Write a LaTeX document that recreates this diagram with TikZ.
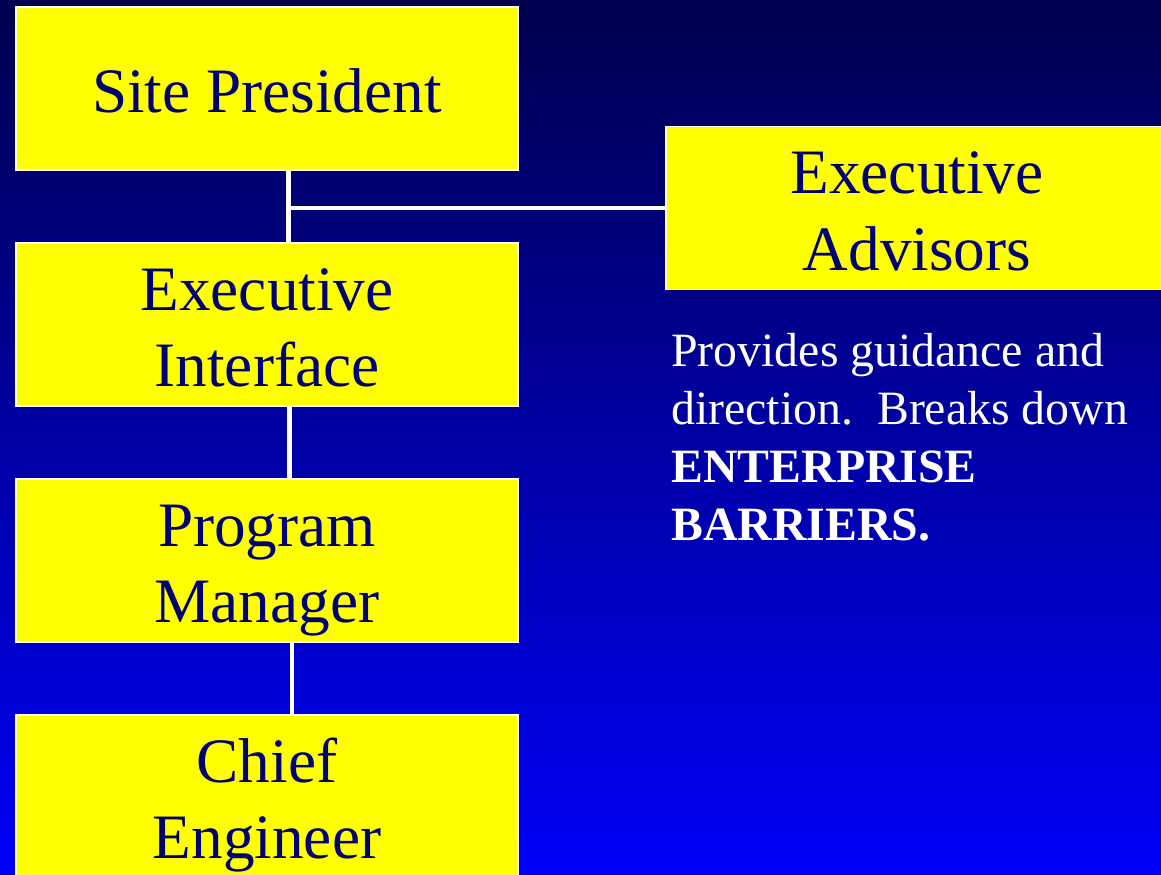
\documentclass[tikz,border=0pt]{standalone}
\usepackage{fontspec}
\setmainfont{Liberation Serif}
\usepackage{tikz}
\usetikzlibrary{positioning}
\usepackage{xcolor}
\definecolor{slidetop}{RGB}{0,0,78}
\definecolor{slidebottom}{RGB}{0,0,248}
\definecolor{boxfill}{RGB}{255,255,0}
\definecolor{boxtext}{RGB}{0,0,110}
\tikzset{%
	% #1 = height above the last baseline (one line: 30pt, two lines: 73.5pt)
	orgbox/.style={
		rectangle,
		draw=white,
		line width=1.1pt,
		fill=boxfill,
		text=boxtext,
		align=center,
		minimum width=10.04cm,
		minimum height=3.26cm,
		font=\fontsize{36}{43.5}\selectfont,
		text height=#1,
		text depth=2.5pt
	},
	orgbox/.default=30pt,
	link/.style={
		draw=white,
		line width=2.8pt
	},
	note/.style={
		text=white,
		align=left,
		inner sep=0pt,
		anchor=north west,
		font=\fontsize{27.2}{33}\selectfont
	},
}
\begin{document}
\begin{tikzpicture}
			% Slide background
			\useasboundingbox (0,0) rectangle (23.22,17.48);
			\clip (0,0) rectangle (23.22,17.48);
			\shade[top color=slidetop, bottom color=slidebottom] (0,0) rectangle (23.22,17.48);
			
			% Chain of command, stacked down the left side
			\node[orgbox] (sp) at (5.34,15.71) {Site President};
			\node[orgbox=73.5pt] (ei) [below=1.42cm of sp] {Executive\\Interface};
			\node[orgbox=73.5pt] (pm) [below=1.42cm of ei] {Program\\Manager};
			\node[orgbox=73.5pt] (ce) [below=1.42cm of pm] {Chief\\Engineer};
			
			% Advisors hang off the side of the top link
			\node[orgbox=73.5pt] (ea) at (18.34,13.32) {Executive\\Advisors};
			\node[note] (role) at (13.42,10.82) {Provides guidance and\\direction.\ \ Breaks down\\\textbf{ENTERPRISE}\\\textbf{BARRIERS.}};
			
			% Links
			\draw[link] ([xshift=0.43cm]sp.south) -- ([xshift=0.43cm]ei.north);
			\coordinate (tee) at ([xshift=0.43cm]sp.south |- ea.west);
			\draw[link] (ea.west) -- (tee);
			\draw[link] ([xshift=0.45cm]ei.south) -- ([xshift=0.45cm]pm.north);
			\draw[link] ([xshift=0.5cm]pm.south) -- ([xshift=0.5cm]ce.north);
\end{tikzpicture}
\end{document}
